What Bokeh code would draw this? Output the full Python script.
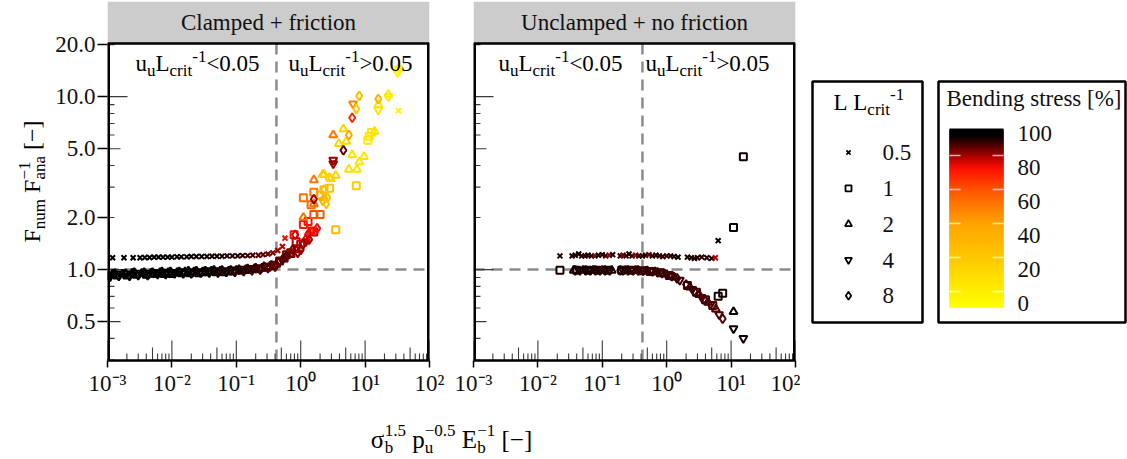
import numpy as np
from bokeh.plotting import figure
from bokeh.models import Range1d, FixedTicker, Label, LinearColorMapper, ColumnDataSource
from bokeh.transform import transform
from bokeh.layouts import row, column
from bokeh.embed import file_html
from bokeh.resources import INLINE

FONT = "Liberation Serif"

# ---------------- data ----------------
# Clamped + friction panel, one series per L/Lcrit
CF_L05_X = [0.0012, 0.0018, 0.0025, 0.0032, 0.0038, 0.0045, 0.0053, 0.0062, 0.0073, 0.0086, 0.01, 0.012, 0.014, 0.017, 0.02,
            0.024, 0.029, 0.035, 0.042, 0.05, 0.06, 0.072, 0.087, 0.105, 0.125, 0.15, 0.18, 0.22, 0.26, 0.31, 0.37, 0.44,
            0.52, 0.57, 33.0]
CF_L05_Y = [1.17, 1.17, 1.17, 1.17, 1.175, 1.175, 1.18, 1.18, 1.18, 1.18, 1.18, 1.185, 1.185, 1.185, 1.19, 1.19, 1.19,
            1.19, 1.195, 1.195, 1.195, 1.2, 1.2, 1.2, 1.205, 1.205, 1.21, 1.21, 1.22, 1.23, 1.25, 1.29, 1.36, 1.52, 8.3]
CF_L05_S = [100, 100, 100, 100, 100, 100, 99, 99, 99, 99, 99, 99, 98, 98, 98, 98, 98, 97, 97, 97, 97, 96, 96, 96, 95, 95,
            94, 93, 92, 91, 90, 88, 86, 82, 5]

CF_L1_X = [0.001, 0.0014, 0.002, 0.0028, 0.004, 0.0055, 0.0075, 0.01, 0.014, 0.019, 0.026, 0.035, 0.048, 0.065, 0.088,
           0.12, 0.16, 0.22, 0.3, 0.38, 0.47, 0.6, 0.7, 0.79, 0.85, 1.0, 1.1, 1.1, 1.3, 1.45, 1.6, 1.6, 1.6, 2.0, 2.0,
           2.3, 2.8, 3.5, 7.3, 11.0, 11.6, 12.5]
CF_L1_Y = [0.92, 0.93, 0.93, 0.94, 0.94, 0.95, 0.95, 0.95, 0.96, 0.96, 0.96, 0.97, 0.97, 0.97, 0.98, 0.99, 1.0, 1.01,
           1.03, 1.06, 1.12, 1.22, 1.25, 1.59, 1.45, 1.4, 1.82, 2.6, 1.9, 2.37, 1.65, 2.08, 2.8, 2.08, 2.7, 2.9, 2.95,
           1.7, 3.05, 5.6, 5.9, 6.2]
CF_L1_S = [100, 100, 100, 100, 100, 99, 99, 99, 99, 98, 98, 98, 97, 97, 96, 96, 95, 94, 93, 91, 92, 90, 90, 80, 86, 86,
           78, 60, 80, 62, 85, 68, 58, 66, 45, 35, 30, 35, 25, 10, 12, 12]

CF_L2_X = [0.0012, 0.0017, 0.0024, 0.0034, 0.0047, 0.0065, 0.0088, 0.012, 0.016, 0.022, 0.03, 0.041, 0.056, 0.076, 0.1,
           0.14, 0.19, 0.25, 0.33, 0.42, 0.55, 0.7, 0.85, 1.1, 1.2, 1.45, 1.6, 1.6, 2.2, 2.3, 2.3, 2.8, 2.95, 3.2, 3.5,
           3.9, 4.6, 5.1, 5.6, 6.3, 7.5, 8.1, 9.6, 14.0, 16.0, 23.0, 33.0]
CF_L2_Y = [0.94, 0.94, 0.95, 0.95, 0.95, 0.96, 0.96, 0.96, 0.97, 0.97, 0.97, 0.98, 0.98, 0.98, 0.99, 1.0, 1.01, 1.02,
           1.04, 1.07, 1.15, 1.22, 1.3, 2.0, 1.5, 1.65, 3.3, 2.4, 3.55, 3.55, 2.6, 3.4, 3.35, 6.0, 3.5, 5.35, 6.5, 5.5,
           3.8, 4.6, 3.8, 4.2, 4.5, 6.3, 9.0, 10.3, 14.5]
CF_L2_S = [100, 100, 100, 100, 100, 99, 99, 99, 99, 98, 98, 98, 97, 97, 96, 96, 95, 94, 93, 92, 92, 90, 88, 60, 82, 75,
           58, 60, 25, 22, 40, 20, 20, 58, 22, 20, 20, 18, 15, 15, 12, 12, 12, 15, 10, 8, 5]

CF_L4_X = [0.0011, 0.0015, 0.0022, 0.003, 0.0042, 0.006, 0.008, 0.011, 0.015, 0.02, 0.028, 0.038, 0.052, 0.07, 0.095,
           0.13, 0.175, 0.235, 0.31, 0.4, 0.6, 0.9, 1.2, 1.5, 2.2, 3.2, 3.2, 6.5, 16.0, 23.0, 32.0, 33.0]
CF_L4_Y = [0.91, 0.92, 0.92, 0.93, 0.93, 0.94, 0.94, 0.95, 0.95, 0.95, 0.96, 0.96, 0.96, 0.97, 0.97, 0.98, 0.99, 1.0,
           1.02, 1.04, 1.18, 1.25, 1.45, 1.7, 2.5, 4.3, 4.1, 9.1, 8.4, 10.0, 13.8, 14.5]
CF_L4_S = [100, 100, 100, 100, 100, 99, 99, 99, 99, 98, 98, 98, 97, 97, 96, 96, 95, 94, 93, 92, 92, 88, 84, 80, 40, 88,
           88, 55, 12, 10, 6, 5]

CF_L8_X = [0.0013, 0.0019, 0.0026, 0.0037, 0.005, 0.007, 0.0095, 0.013, 0.018, 0.024, 0.033, 0.045, 0.06, 0.082, 0.11,
           0.15, 0.2, 0.27, 0.35, 0.45, 0.52, 0.6, 0.75, 0.82, 1.0, 1.1, 1.3, 1.35, 1.6, 1.8, 2.3, 2.5, 2.6, 4.6, 5.6,
           6.3, 7.3, 8.1, 16.0]
CF_L8_Y = [0.95, 0.95, 0.96, 0.96, 0.96, 0.97, 0.97, 0.97, 0.98, 0.98, 0.98, 0.99, 0.99, 0.99, 1.0, 1.01, 1.02, 1.04,
           1.06, 1.1, 1.14, 1.2, 1.3, 1.59, 1.3, 1.41, 1.6, 1.49, 2.55, 1.73, 2.9, 2.4, 2.6, 4.9, 6.0, 7.55, 8.5, 10.1,
           9.7]
CF_L8_S = [100, 100, 100, 100, 100, 99, 99, 99, 99, 98, 98, 98, 97, 97, 96, 96, 95, 94, 93, 92, 93, 92, 90, 84, 88, 88,
           82, 86, 88, 80, 30, 30, 28, 92, 45, 75, 25, 30, 40]

# Unclamped + no friction panel
UN_L05_X = [0.022, 0.034, 0.038, 0.043, 0.048, 0.054, 0.06, 0.068, 0.077, 0.087, 0.1, 0.113, 0.128, 0.145, 0.19, 0.21,
            0.235, 0.26, 0.29, 0.33, 0.37, 0.42, 0.47, 0.53, 0.6, 0.68, 0.77, 0.87, 1.0, 1.15, 1.3, 1.5, 2.1, 2.4, 2.7,
            3.0, 3.5, 4.2, 5.0, 5.7, 6.3]
UN_L05_Y = [1.2, 1.2, 1.21, 1.23, 1.2, 1.2, 1.21, 1.2, 1.2, 1.21, 1.22, 1.2, 1.21, 1.22, 1.2, 1.21, 1.2, 1.23, 1.2, 1.21,
            1.2, 1.2, 1.21, 1.22, 1.2, 1.21, 1.2, 1.19, 1.2, 1.2, 1.19, 1.18, 1.18, 1.17, 1.16, 1.17, 1.18, 1.17, 1.16,
            1.17, 1.47]
UN_L05_S = [97, 97, 96, 98, 96, 95, 97, 96, 90, 96, 97, 95, 88, 97, 96, 90, 95, 97, 96, 88, 95, 96, 97, 90, 96, 97, 95,
            96, 95, 96, 97, 98, 96, 97, 96, 97, 95, 96, 97, 86, 98]

UN_L1_X = [0.022, 0.04, 0.06, 0.085, 0.12, 0.2, 0.28, 0.4, 0.56, 0.8, 1.1, 2.1, 2.9, 4.0, 5.2, 6.3, 7.4, 10.9, 15.5]
UN_L1_Y = [0.99, 0.99, 0.99, 0.99, 0.99, 0.99, 0.99, 0.985, 0.975, 0.96, 0.925, 0.81, 0.74, 0.67, 0.62, 0.70, 0.73,
           1.75, 4.5]
UN_L1_S = [97, 97, 97, 96, 96, 96, 96, 95, 95, 95, 94, 94, 94, 94, 93, 97, 97, 98, 98]

UN_L2_X = [0.036, 0.05, 0.072, 0.1, 0.14, 0.23, 0.33, 0.47, 0.66, 0.92, 1.3, 2.3, 3.2, 4.4, 5.8, 10.9]
UN_L2_Y = [0.99, 0.99, 0.99, 0.99, 0.99, 0.99, 0.99, 0.98, 0.97, 0.945, 0.905, 0.79, 0.715, 0.645, 0.59, 0.57]
UN_L2_S = [97, 97, 96, 96, 96, 96, 95, 95, 95, 95, 94, 94, 94, 93, 93, 98]

UN_L4_X = [0.045, 0.065, 0.092, 0.13, 0.21, 0.3, 0.43, 0.6, 0.85, 1.2, 1.6, 2.5, 3.5, 4.8, 6.5, 10.9, 15.5]
UN_L4_Y = [0.99, 0.99, 0.99, 0.99, 0.99, 0.99, 0.985, 0.975, 0.955, 0.915, 0.87, 0.77, 0.69, 0.63, 0.55, 0.456, 0.40]
UN_L4_S = [97, 97, 96, 96, 96, 95, 95, 95, 95, 94, 94, 94, 94, 93, 93, 98, 98]

UN_L8_X = [0.038, 0.055, 0.078, 0.11, 0.19, 0.25, 0.36, 0.5, 0.72, 1.0, 1.45, 2.0, 2.7, 3.8, 7.4]
UN_L8_Y = [0.99, 0.99, 0.99, 0.99, 0.99, 0.99, 0.99, 0.985, 0.965, 0.935, 0.89, 0.82, 0.75, 0.675, 0.52]
UN_L8_S = [97, 97, 96, 96, 96, 96, 95, 95, 95, 94, 94, 94, 94, 93, 93]

PANEL_TITLES = ["Clamped + friction", "Unclamped + no friction"]
L_LABELS = ["0.5", "1", "2", "4", "8"]
L_MARKERS = ["x", "square", "triangle", "inverted_triangle", "diamond"]
L_SIZES = [7, 7, 8, 8, 9]
X_TICKS = [1e-3, 1e-2, 1e-1, 1e0, 1e1, 1e2]
X_TICK_LABELS = ["10⁻³", "10⁻²", "10⁻¹", "10⁰", "10¹", "10²"]
Y_TICKS = [0.5, 1.0, 2.0, 5.0, 10.0, 20.0]
Y_TICK_LABELS = ["0.5", "1.0", "2.0", "5.0", "10.0", "20.0"]
CB_TICKS = [0, 20, 40, 60, 80, 100]
X_SPLIT = 0.42      # where u_u / L_crit = 0.05
Y_REF = 1.0         # F_num = F_ana
X_MIN, X_MAX = 1e-3, 1e2
Y_MIN, Y_MAX = 0.298, 20.3

# colour scale (bending stress %)
CB_LOW, CB_HIGH = -2.4, 102.9
CB_STOPS = [-2.4, 6.5, 26.5, 46.5, 66.5, 79.4, 86.5, 93.0, 99.0, 102.9]
CB_COLORS = ["#FFFF00", "#FFF000", "#FFC800", "#FFA500", "#FF5500", "#FF1000", "#B00000", "#500000", "#000000",
             "#000000"]


def _rgb(h):
    return [int(h[i:i + 2], 16) for i in (1, 3, 5)]


PALETTE = []
for v in np.linspace(CB_LOW, CB_HIGH, 256):
    k = min(int(np.searchsorted(CB_STOPS, v, side="right")) - 1, len(CB_STOPS) - 2)
    k = max(k, 0)
    f = (v - CB_STOPS[k]) / (CB_STOPS[k + 1] - CB_STOPS[k])
    a, b = _rgb(CB_COLORS[k]), _rgb(CB_COLORS[k + 1])
    c = [int(round(a[i] + (b[i] - a[i]) * f)) for i in range(3)]
    PALETTE.append("#%02x%02x%02x" % tuple(c))
CMAP = LinearColorMapper(palette=PALETTE, low=CB_LOW, high=CB_HIGH)

# ---------------- text helpers ----------------
TW = {' ': 250, '%': 833, '+': 564, '-': 333, '.': 250, '<': 564, '>': 564, '[': 333, ']': 333, '−': 564,
      'σ': 560, 'B': 667, 'C': 667, 'E': 611, 'F': 556, 'L': 611, 'U': 722,
      'a': 444, 'b': 500, 'c': 444, 'd': 500, 'e': 444, 'f': 333, 'g': 500, 'i': 278, 'l': 278, 'm': 778,
      'n': 500, 'o': 500, 'p': 500, 'r': 333, 's': 389, 't': 278, 'u': 500}
MID = 0.3375   # distance baseline -> middle of the em box, in em


def text_width(t, fs):
    return sum(TW.get(ch, 500) for ch in t) * fs / 1000.0


def label(fig, x, y, text, fs, xo=0.0, yo=0.0, angle=0.0, align="left", color="#111111"):
    """text whose alphabetic baseline sits at (x, y) + offsets (y offset upwards)"""
    if angle == 0:
        xo2, yo2 = xo, yo + MID * fs
    else:
        xo2, yo2 = xo - MID * fs, yo
    fig.add_layout(Label(x=x, y=y, x_offset=xo2, y_offset=yo2, text=text, angle=angle,
                         text_font=FONT, text_font_size=f"{fs}px", text_align=align,
                         text_baseline="middle", text_color=color))


def rich(fig, parts, ax, ay, fs, sfs, ox=0.0, oy=0.0, angle=0.0, align="left", sub=0.22, sup=0.42):
    pieces = []
    cur = 0.0
    for it in parts:
        if it[0] == "stack":
            _, sb, sp = it
            pieces.append((sb, cur, -sub * fs, sfs))
            pieces.append((sp, cur, sup * fs, sfs))
            cur += max(text_width(sb, sfs), text_width(sp, sfs))
        else:
            t, k = it
            f = fs if k == "n" else sfs
            dy = 0.0 if k == "n" else (-sub * fs if k == "b" else sup * fs)
            pieces.append((t, cur, dy, f))
            cur += text_width(t, f)
    shift = -cur / 2.0 if align == "center" else 0.0
    for t, dx, dy, f in pieces:
        if not t.strip():
            continue
        dx += shift
        if angle == 0:
            label(fig, ax, ay, t, f, xo=ox + dx, yo=oy + dy, color="black")
        else:
            label(fig, ax, ay, t, f, xo=ox - dy, yo=oy + dx, angle=angle, color="black")


def no_frame_align(f):
    try:
        f.frame_align = False
    except Exception:
        pass
    return f


def blank(width, height, x0, y0):
    """figure whose data coordinates are page pixels (y downwards)"""
    f = figure(width=width, height=height, x_range=Range1d(x0, x0 + width), y_range=Range1d(y0 + height, y0),
               title=None, x_axis_location=None, y_axis_location=None, output_backend="svg",
               toolbar_location=None, min_border_left=0, min_border_right=0, min_border_top=0,
               min_border_bottom=0)
    f.grid.visible = False
    f.outline_line_color = None
    f.background_fill_color = "white"
    f.border_fill_color = "white"
    return no_frame_align(f)


# ---------------- geometry ----------------
FRAME_W = 322
FRAME_H = 317          # plotting area height
STRIP_H = 42           # grey facet strip above it
TOP_H = 410
YT_W = 50
LEFT_W, LEFT_BL, LEFT_BR = 451 - YT_W, 107 - YT_W, 22
RIGHT_W, RIGHT_BL, RIGHT_BR = 349, 22, 5
FS, SFS = 23, 17
DEC_PX = FRAME_H / np.log10(Y_MAX / Y_MIN)
Y_TOP = Y_MAX * 10 ** (STRIP_H / DEC_PX)   # range end that leaves room for the strip


def add_logticks(p, axis):
    vals, lens = [], []
    lo, hi = (X_MIN, X_MAX) if axis == "x" else (Y_MIN, Y_MAX)
    for e in range(-4, 3):
        for m in range(1, 10):
            v = m * 10.0 ** e
            if lo * 0.999 <= v <= hi:
                vals.append(v)
                lens.append(20 if m == 1 else (13 if m == 5 else 7))
    if axis == "x":
        p.ray(x=vals, y=[Y_MIN] * len(vals), length=lens, length_units="screen", angle=np.pi / 2,
              line_color="#3a3a3a", line_width=1.1)
    else:
        p.ray(x=[X_MIN] * len(vals), y=vals, length=lens, length_units="screen", angle=0.0,
              line_color="#3a3a3a", line_width=1.1)


def panel(width, bl, br, show_y, series, title, txt_offsets):
    p = figure(width=width, height=TOP_H, x_axis_type="log", y_axis_type="log",
               x_range=Range1d(X_MIN, X_MAX), y_range=Range1d(Y_MIN, Y_TOP), title=None,
               y_axis_location="left" if show_y else None,
               output_backend="svg", toolbar_location=None,
               min_border_left=bl, min_border_right=br, min_border_top=1,
               min_border_bottom=TOP_H - 1 - FRAME_H - STRIP_H)
    no_frame_align(p)
    p.grid.visible = False
    p.outline_line_color = None
    p.background_fill_color = "white"
    p.border_fill_color = "white"

    xa = p.xaxis[0]
    xa.ticker = FixedTicker(ticks=X_TICKS, minor_ticks=[])
    xa.major_label_overrides = dict(zip(X_TICKS, X_TICK_LABELS))
    xa.major_tick_out = 7
    xa.major_tick_in = 0
    xa.minor_tick_out = 0
    xa.minor_tick_in = 0
    xa.major_tick_line_width = 1.5
    xa.axis_line_width = 2.5
    xa.major_label_standoff = 3
    xa.major_label_text_font = FONT
    xa.major_label_text_font_size = f"{FS}px"
    xa.major_label_text_color = "#111111"
    if show_y:
        ya = p.yaxis[0]
        ya.ticker = FixedTicker(ticks=Y_TICKS, minor_ticks=[])
        ya.major_label_overrides = dict(zip(Y_TICKS, Y_TICK_LABELS))
        ya.axis_line_color = None
        ya.major_tick_out = 10
        ya.major_tick_in = 0
        ya.minor_tick_out = 0
        ya.minor_tick_in = 0
        ya.major_tick_line_width = 1.5
        ya.major_label_standoff = 2
        ya.major_label_text_font = FONT
        ya.major_label_text_font_size = f"{FS}px"
        ya.major_label_text_color = "#111111"

    # grey facet strip
    p.quad(left=[X_MIN], right=[X_MAX], bottom=[Y_MAX], top=[Y_TOP], fill_color="#CCCCCC", line_color=None)
    p.add_layout(Label(x=np.sqrt(X_MIN * X_MAX), y=np.sqrt(Y_MAX * Y_TOP), text=title, text_align="center",
                       text_baseline="middle", text_font=FONT, text_font_size=f"{FS}px", text_color="#111111"))

    # dashed reference lines
    dash = dict(line_color="#8c8c8c", line_width=2.5, line_dash="11 7")
    p.segment(x0=[X_SPLIT], x1=[X_SPLIT], y0=[Y_MIN], y1=[Y_MAX], **dash)
    p.segment(x0=[X_MIN], x1=[X_MAX], y0=[Y_REF], y1=[Y_REF], **dash)

    add_logticks(p, "x")
    add_logticks(p, "y")

    for (xs, ys, ss), marker, size in zip(series, L_MARKERS, L_SIZES):
        src = ColumnDataSource(dict(x=xs, y=ys, s=ss))
        p.scatter("x", "y", source=src, marker=marker, size=size, fill_color=None,
                  line_color=transform("s", CMAP), line_width=2.0)

    # frame border (left/right half-clipped at frame edge, hence doubled width)
    p.segment(x0=[X_MIN, X_MAX], x1=[X_MIN, X_MAX], y0=[Y_MIN, Y_MIN], y1=[Y_MAX, Y_MAX],
              line_color="black", line_width=5)
    p.segment(x0=[X_MIN], x1=[X_MAX], y0=[Y_MAX], y1=[Y_MAX], line_color="black", line_width=2.5)

    # region annotations u_u L_crit^-1 </> 0.05
    for off, rel in zip(txt_offsets, ["<0.05", ">0.05"]):
        rich(p, [("u", "n"), ("u", "b"), ("L", "n"), ("crit", "b"), ("-1", "p"), (rel, "n")],
             X_MIN, Y_MAX, FS, SFS, ox=off, oy=-28, sub=0.2, sup=0.4)
    return p


cf_series = [(CF_L05_X, CF_L05_Y, CF_L05_S), (CF_L1_X, CF_L1_Y, CF_L1_S), (CF_L2_X, CF_L2_Y, CF_L2_S),
             (CF_L4_X, CF_L4_Y, CF_L4_S), (CF_L8_X, CF_L8_Y, CF_L8_S)]
un_series = [(UN_L05_X, UN_L05_Y, UN_L05_S), (UN_L1_X, UN_L1_Y, UN_L1_S), (UN_L2_X, UN_L2_Y, UN_L2_S),
             (UN_L4_X, UN_L4_Y, UN_L4_S), (UN_L8_X, UN_L8_Y, UN_L8_S)]

pl = panel(LEFT_W, LEFT_BL, LEFT_BR, True, cf_series, PANEL_TITLES[0], [28, 181])
pr = panel(RIGHT_W, RIGHT_BL, RIGHT_BR, False, un_series, PANEL_TITLES[1], [25, 172])

# ---------------- y-axis title: F_num F_ana^-1 [−] ----------------
yt = blank(YT_W, TOP_H, 0, 0)
rich(yt, [("F", "n"), ("num", "b"), (" ", "n"), ("F", "n"), ("stack", "ana", "−1"), (" ", "n"), ("[−]", "n")],
     40, 242, 24, 17, angle=np.pi / 2, sub=0.2, sup=0.42)

# ---------------- legends ----------------
LEG_X0 = 451 + RIGHT_W
LEG_W = 1127 - LEG_X0
lg = blank(LEG_W, TOP_H, LEG_X0, 0)

# shape legend box
lg.quad(left=[812], right=[922], top=[81], bottom=[322], fill_color=None, line_color="black", line_width=2.5)
rich(lg, [("L", "n"), (" ", "n"), ("L", "n"), ("crit", "b"), ("-1", "p")], 833, 110, FS, SFS, sub=0.2, sup=0.45)
leg_y = [152 + i * 35.8 for i in range(len(L_LABELS))]
for yy, lab, mk, sz in zip(leg_y, L_LABELS, L_MARKERS, L_SIZES):
    lg.scatter([848], [yy], marker=mk, size=sz - 1, fill_color=None, line_color="black", line_width=1.8)
    label(lg, 882, yy + 8, lab, FS)

# colour bar box
lg.quad(left=[938], right=[1125], top=[81], bottom=[322], fill_color=None, line_color="black", line_width=2.5)
label(lg, 946, 106, "Bending stress [%]", FS)
CB_TOP, CB_BOT, CB_L, CB_R = 128, 307, 949, 1003
CB_Y0, CB_PX = 303.0, 1.7   # label position of 0 %, px per %
gy = np.arange(CB_TOP, CB_BOT)
gv = (CB_Y0 - (gy + 0.5)) / CB_PX
lg.quad(left=CB_L, right=CB_R, top="t", bottom="b",
        source=ColumnDataSource(dict(t=gy, b=np.minimum(gy + 3, CB_BOT), v=gv)),
        fill_color=transform("v", CMAP), line_color=None)
for v in CB_TICKS:
    label(lg, 1017, CB_Y0 - v * CB_PX + 8, str(v), FS)
tick_y = [CB_Y0 - v * CB_PX - 12 for v in CB_TICKS if CB_Y0 - v * CB_PX - 12 > CB_TOP]
lg.segment(x0=[CB_L] * len(tick_y), x1=[CB_L + 11] * len(tick_y), y0=tick_y, y1=tick_y,
           line_color="white", line_alpha=0.7, line_width=1.5)
lg.segment(x0=[CB_R - 11] * len(tick_y), x1=[CB_R] * len(tick_y), y0=tick_y, y1=tick_y,
           line_color="white", line_alpha=0.7, line_width=1.5)

# ---------------- x-axis title ----------------
BOT_H = 459 - TOP_H
bt = blank(1127, BOT_H, 0, TOP_H)
rich(bt, [("σ", "n"), ("stack", "b", "1.5"), (" ", "n"), ("p", "n"), ("stack", "u", "−0.5"), (" ", "n"),
          ("E", "n"), ("stack", "b", "−1"), (" ", "n"), ("[−]", "n")],
     451, 447, 25, 17, align="center", sub=0.22, sup=0.45)

layout = column(row(column(yt), column(pl), column(pr), column(lg)), column(bt))
open("out.html", "w").write(file_html(layout, INLINE))
